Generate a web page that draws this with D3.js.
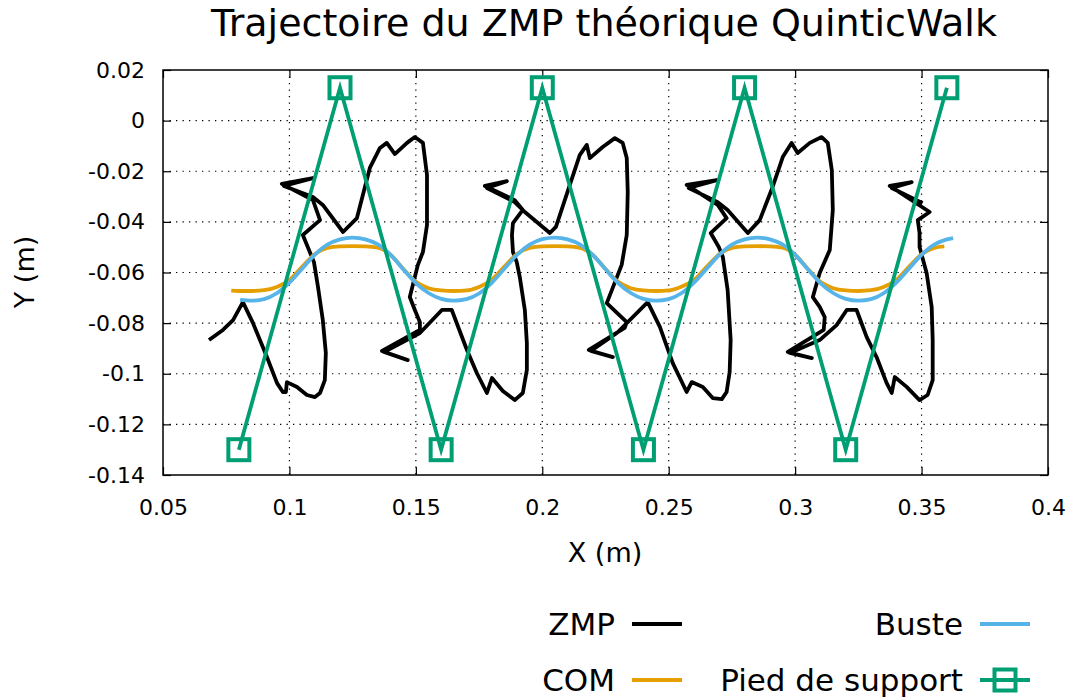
<!DOCTYPE html>
<html lang="fr">
  <head>
    <meta charset="utf-8" />
    <title>Trajectoire du ZMP</title>
    <script src="https://d3js.org/d3.v7.min.js"></script>
    <style>
      body { margin: 0; background: #fff; }
      svg text { font-family: "DejaVu Sans", sans-serif; fill: #000; }
    </style>
  </head>
  <body>
    <script type="text/javascript">
      // ZMP path (x, y) in metres
      const zmpX = [
        0.0682, 0.0737, 0.0777, 0.0816, 0.0856, 0.0911, 0.0951, 0.0974, 0.0986, 0.099, 0.103, 0.1069, 0.1101, 0.1121,
        0.114, 0.1144, 0.1132, 0.1113, 0.1097, 0.1053, 0.1121, 0.1093, 0.097, 0.1093, 0.0978, 0.1093, 0.1132, 0.1212,
        0.1267, 0.1318, 0.1358, 0.1385, 0.1417, 0.1465, 0.1496, 0.1528, 0.1544, 0.1544, 0.1528, 0.1508, 0.1476, 0.1496,
        0.1516, 0.1516, 0.1366, 0.1468, 0.1374, 0.1516, 0.1603, 0.1642, 0.1702, 0.1741, 0.1781, 0.1801, 0.1844, 0.1891,
        0.1923, 0.1939, 0.1939, 0.1931, 0.1911, 0.1899,
        0.1884, 0.188, 0.1884, 0.1923, 0.1891, 0.1773, 0.186, 0.1781, 0.1891, 0.1931, 0.203, 0.2054, 0.2109, 0.2148,
        0.2176, 0.2188, 0.2239, 0.2287, 0.2318, 0.2334, 0.2338, 0.2334, 0.2314, 0.2255, 0.2334, 0.2326, 0.2184, 0.2279,
        0.2192, 0.2295, 0.2417, 0.2465, 0.2516, 0.2571, 0.2591, 0.2635, 0.2674, 0.271, 0.2729, 0.2741, 0.2745, 0.2733,
        0.2714,
        0.2698, 0.2666, 0.2729, 0.2694, 0.2571, 0.269, 0.2579, 0.2694, 0.2733, 0.2813, 0.286, 0.2911, 0.2951, 0.2986,
        0.301, 0.3058, 0.3105, 0.3129, 0.3145, 0.3149, 0.3137, 0.3097, 0.307, 0.3097, 0.3117, 0.3113, 0.2971, 0.3066,
        0.2979, 0.3097, 0.3164, 0.3204, 0.3243, 0.3283, 0.3322, 0.3362, 0.3382, 0.3394, 0.3441, 0.3492, 0.3524, 0.3544,
        0.3544, 0.354, 0.352, 0.3492,
        0.3492, 0.3485, 0.3532, 0.3374, 0.3461, 0.3382, 0.3504
      ];
      const zmpY = [
        -0.0867, -0.0827, -0.0788, -0.0717, -0.08, -0.0934, -0.1037, -0.1072, -0.1072, -0.1033, -0.1052, -0.1084, -0.1092, -0.1076,
        -0.1025, -0.0918, -0.0788, -0.0657, -0.0559, -0.0452, -0.0393, -0.0314, -0.025, -0.0227, -0.0258, -0.0302, -0.0333, -0.044,
        -0.0385, -0.0187, -0.0108, -0.0088, -0.0132, -0.0088, -0.0065, -0.0088, -0.0215, -0.0412, -0.0519, -0.057, -0.0697, -0.0748,
        -0.0796, -0.0827, -0.091, -0.0946, -0.0914, -0.0839, -0.0748, -0.0748, -0.0906, -0.0997, -0.1076, -0.1017, -0.1068, -0.1104,
        -0.1076, -0.0985, -0.0879, -0.0748, -0.0618, -0.0559,
        -0.0519, -0.0452, -0.0405, -0.0353, -0.0314, -0.0258, -0.0239, -0.0266, -0.0322, -0.0361, -0.0444, -0.042, -0.0254, -0.0136,
        -0.0096, -0.0148, -0.0104, -0.0069, -0.0088, -0.0148, -0.0282, -0.0452, -0.057, -0.0721, -0.0796, -0.0819, -0.0906, -0.0934,
        -0.091, -0.0839, -0.0717, -0.0815, -0.0958, -0.1072, -0.1033, -0.1052, -0.1096, -0.11, -0.1072, -0.0993, -0.0867, -0.0669,
        -0.0539,
        -0.0499, -0.0444, -0.0385, -0.0333, -0.0254, -0.0235, -0.0266, -0.0322, -0.0353, -0.0444, -0.0393, -0.0262, -0.0144, -0.0088,
        -0.0128, -0.0088, -0.0065, -0.0088, -0.0195, -0.0353, -0.0511, -0.0602, -0.0697, -0.0736, -0.0776, -0.0827, -0.0914, -0.0938,
        -0.0918, -0.0867, -0.0808, -0.0748, -0.0748, -0.0855, -0.0934, -0.1037, -0.1076, -0.1013, -0.1052, -0.1104, -0.1084, -0.1025,
        -0.0867, -0.0736, -0.0602, -0.0499,
        -0.0444, -0.0393, -0.0361, -0.0258, -0.0243, -0.0266, -0.0326
      ];

      // COM
      const comX = [
        0.077, 0.08, 0.085, 0.09, 0.095, 0.1, 0.105, 0.11, 0.115, 0.12, 0.125, 0.13, 0.135, 0.14, 0.145, 0.15, 0.155, 0.16,
        0.165, 0.17, 0.175, 0.18, 0.185, 0.19, 0.195, 0.2, 0.205, 0.21, 0.215, 0.22, 0.225, 0.23, 0.235, 0.24, 0.245, 0.25,
        0.255, 0.26, 0.265, 0.27, 0.275, 0.28, 0.285, 0.29, 0.295, 0.3, 0.305, 0.31, 0.315, 0.32, 0.325, 0.33, 0.335, 0.34,
        0.345, 0.35, 0.355, 0.359
      ];
      const comY = [
        -0.0672, -0.0673, -0.0673, -0.067, -0.0657, -0.063, -0.0578, -0.0528, -0.0503, -0.0497, -0.0496, -0.0497, -0.0502, -0.053,
        -0.0585, -0.0637, -0.0662, -0.0671, -0.0673, -0.0671, -0.0657, -0.0629, -0.0577, -0.0527, -0.0503, -0.0497, -0.0496, -0.0497,
        -0.0503, -0.0531, -0.0586, -0.0637, -0.0662, -0.0671, -0.0673, -0.0671, -0.0656, -0.063, -0.0578, -0.0528, -0.0503, -0.0497,
        -0.0496, -0.0497, -0.0502, -0.053, -0.0585, -0.0637, -0.0662, -0.0671, -0.0673, -0.067, -0.0657, -0.063, -0.0578, -0.0528,
        -0.0503, -0.0497
      ];

      // Buste
      const busteX = [
        0.0805, 0.085, 0.09, 0.095, 0.1, 0.105, 0.11, 0.115, 0.12, 0.125, 0.13, 0.135, 0.14, 0.145, 0.15, 0.155, 0.16, 0.165,
        0.17, 0.175, 0.18, 0.185, 0.19, 0.195, 0.2, 0.205, 0.21, 0.215, 0.22, 0.225, 0.23, 0.235, 0.24, 0.245, 0.25, 0.255,
        0.26, 0.265, 0.27, 0.275, 0.28, 0.285, 0.29, 0.295, 0.3, 0.305, 0.31, 0.315, 0.32, 0.325, 0.33, 0.335, 0.34, 0.345,
        0.35, 0.355, 0.36, 0.3625
      ];
      const busteY = [
        -0.0708, -0.0711, -0.0705, -0.0682, -0.064, -0.0585, -0.053, -0.049, -0.0469, -0.0462, -0.0469, -0.0489, -0.053, -0.0587,
        -0.0642, -0.0681, -0.0704, -0.0711, -0.0705, -0.0683, -0.0641, -0.0585, -0.053, -0.049, -0.0468, -0.0462, -0.0469, -0.049,
        -0.0531, -0.0587, -0.0642, -0.0681, -0.0704, -0.0711, -0.0705, -0.0682, -0.064, -0.0585, -0.053, -0.049, -0.0469, -0.0462,
        -0.0469, -0.0489, -0.053, -0.0587, -0.0642, -0.0681, -0.0704, -0.0711, -0.0705, -0.0682, -0.064, -0.0585, -0.053, -0.049,
        -0.0469, -0.0464
      ];

      // Pied de support
      const footX = [0.08, 0.12, 0.16, 0.2, 0.24, 0.28, 0.32, 0.36];
      const footY = [-0.13, 0.013, -0.13, 0.013, -0.13, 0.013, -0.13, 0.013];

      const xTicks = [0.05, 0.1, 0.15, 0.2, 0.25, 0.3, 0.35, 0.4];
      const yTicks = [-0.14, -0.12, -0.1, -0.08, -0.06, -0.04, -0.02, 0, 0.02];

      const w = 1073;
      const h = 697;
      const plotL = 163, plotR = 1048, plotT = 70, plotB = 475;

      const xScale = d3.scaleLinear().domain([0.05, 0.4]).range([plotL, plotR]);
      const yScale = d3.scaleLinear().domain([-0.14, 0.02]).range([plotB, plotT]);
      const fmt = (d) => String(+d.toFixed(2));

      let svg = d3.select("body").append("svg").attr("width", w).attr("height", h);

      // grid
      svg.append("g")
        .selectAll("line")
        .data(xTicks.slice(1, -1))
        .enter()
        .append("line")
        .attr("x1", (d) => xScale(d)).attr("x2", (d) => xScale(d))
        .attr("y1", plotT).attr("y2", plotB)
        .attr("stroke", "#000").attr("stroke-width", 1.2)
        .attr("stroke-dasharray", "1.3,5.2");
      svg.append("g")
        .selectAll("line")
        .data(yTicks.slice(1, -1))
        .enter()
        .append("line")
        .attr("y1", (d) => yScale(d)).attr("y2", (d) => yScale(d))
        .attr("x1", plotL).attr("x2", plotR)
        .attr("stroke", "#000").attr("stroke-width", 1.2)
        .attr("stroke-dasharray", "1.3,5.2");

      // axes, ticks pointing inward
      const xAxis = d3.axisBottom(xScale).tickValues(xTicks).tickFormat(fmt).tickSizeInner(-8).tickSizeOuter(0).tickPadding(24);
      const yAxis = d3.axisLeft(yScale).tickValues(yTicks).tickFormat(fmt).tickSizeInner(-8).tickSizeOuter(0).tickPadding(18);
      const xTop = d3.axisTop(xScale).tickValues(xTicks).tickFormat("").tickSizeInner(-8).tickSizeOuter(0);
      const yRight = d3.axisRight(yScale).tickValues(yTicks).tickFormat("").tickSizeInner(-8).tickSizeOuter(0);

      svg.append("g").attr("class", "axis").attr("transform", "translate(0," + plotB + ")").call(xAxis);
      svg.append("g").attr("class", "axis").attr("transform", "translate(" + plotL + ",0)").call(yAxis);
      svg.append("g").attr("class", "axis").attr("transform", "translate(0," + plotT + ")").call(xTop);
      svg.append("g").attr("class", "axis").attr("transform", "translate(" + plotR + ",0)").call(yRight);
      svg.selectAll(".axis path").remove();
      svg.selectAll(".axis line").attr("stroke", "#000").attr("stroke-width", 1.2);
      svg.selectAll(".axis text").attr("font-size", 22).attr("font-family", "DejaVu Sans");

      svg.append("rect")
        .attr("x", plotL).attr("y", plotT)
        .attr("width", plotR - plotL).attr("height", plotB - plotT)
        .attr("fill", "none").attr("stroke", "#000").attr("stroke-width", 1.5);

      // series
      const line = d3.line().x((d) => xScale(d[0])).y((d) => yScale(d[1]));
      const smooth = d3.line().curve(d3.curveMonotoneX).x((d) => xScale(d[0])).y((d) => yScale(d[1]));

      const zmp = zmpX.map((x, i) => [x, zmpY[i]]);
      const com = comX.map((x, i) => [x, comY[i]]);
      const buste = busteX.map((x, i) => [x, busteY[i]]);
      const foot = footX.map((x, i) => [x, footY[i]]);

      svg.append("path").datum(zmp).attr("d", line)
        .attr("fill", "none").attr("stroke", "#000").attr("stroke-width", 3.8)
        .attr("stroke-linejoin", "round");
      svg.append("path").datum(com).attr("d", smooth)
        .attr("fill", "none").attr("stroke", "#e69f00").attr("stroke-width", 3.8);
      svg.append("path").datum(buste).attr("d", smooth)
        .attr("fill", "none").attr("stroke", "#56b4e9").attr("stroke-width", 3.8);
      svg.append("path").datum(foot).attr("d", line)
        .attr("fill", "none").attr("stroke", "#009e73").attr("stroke-width", 3.8);
      svg.append("g")
        .selectAll("rect")
        .data(foot)
        .enter()
        .append("rect")
        .attr("x", (d) => xScale(d[0]) - 10.5)
        .attr("y", (d) => yScale(d[1]) - 10.5)
        .attr("width", 21).attr("height", 21)
        .attr("fill", "none").attr("stroke", "#009e73").attr("stroke-width", 4);

      // titles
      svg.append("text").attr("x", 604).attr("y", 36).attr("text-anchor", "middle")
        .attr("font-size", 38).text("Trajectoire du ZMP théorique QuinticWalk");
      svg.append("text").attr("x", 605).attr("y", 562).attr("text-anchor", "middle")
        .attr("font-size", 27).text("X (m)");
      svg.append("text").attr("transform", "translate(34,272) rotate(-90)").attr("text-anchor", "middle")
        .attr("font-size", 27).text("Y (m)");

      // legend
      const legendNames = ["ZMP", "COM", "Buste", "Pied de support"];
      const legendColors = ["#000", "#e69f00", "#56b4e9", "#009e73"];
      const lx = [615, 615, 963, 963];
      const ly = [624, 680, 624, 680];
      const leg = svg.append("g");
      legendNames.forEach((name, i) => {
        leg.append("text").attr("x", lx[i]).attr("y", ly[i] + 11).attr("text-anchor", "end")
          .attr("font-size", 31).text(name);
        leg.append("line").attr("x1", lx[i] + 17).attr("x2", lx[i] + 67)
          .attr("y1", ly[i]).attr("y2", ly[i])
          .attr("stroke", legendColors[i]).attr("stroke-width", 3.8);
      });
      leg.append("rect").attr("x", 963 + 42 - 10.5).attr("y", 680 - 10.5)
        .attr("width", 21).attr("height", 21)
        .attr("fill", "none").attr("stroke", "#009e73").attr("stroke-width", 4);
    </script>
  </body>
</html>
